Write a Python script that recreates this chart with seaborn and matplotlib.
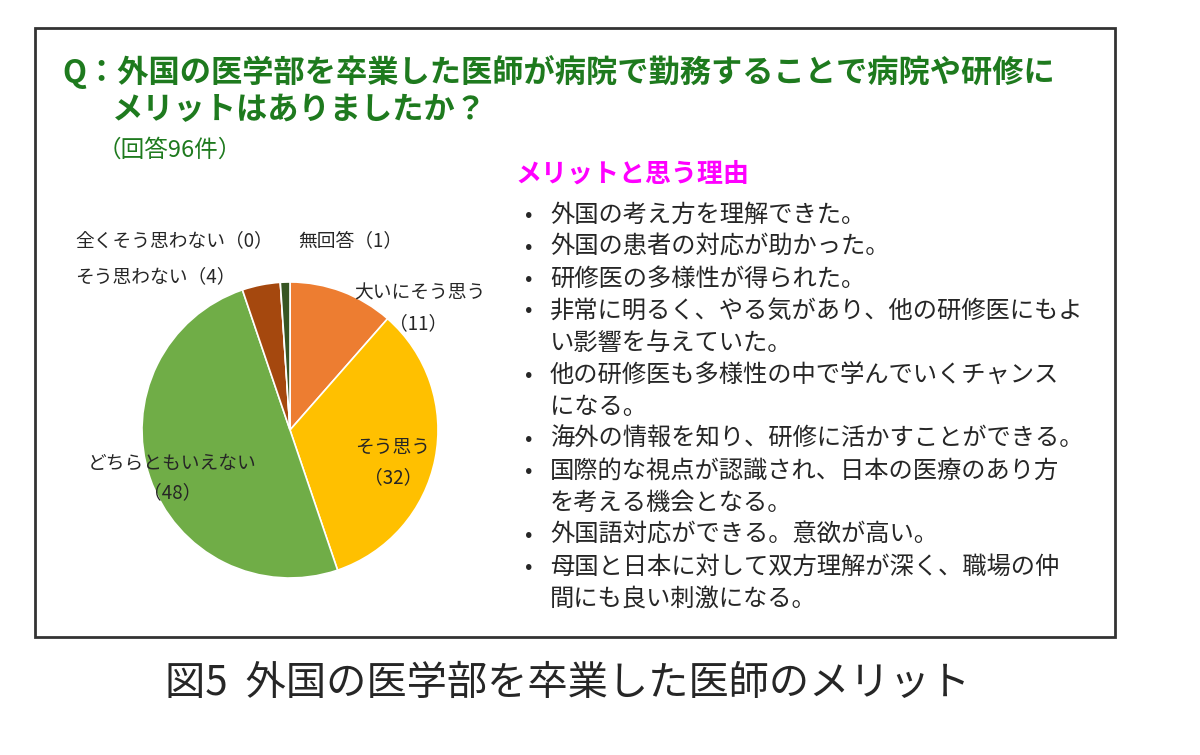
import matplotlib.pyplot as plt
import seaborn as sns
from matplotlib.patches import Rectangle

sns.set_style("white")
plt.rcParams["font.family"] = "Noto Sans CJK JP"

# data
labels = ["大いにそう思う", "そう思う", "どちらともいえない", "そう思わない", "全くそう思わない", "無回答"]
counts = [11, 32, 48, 4, 0, 1]
colors = sns.color_palette(["#ED7D31", "#FFC000", "#70AD47", "#A5480E", "#5B7F2E", "#375623"])

reasons = [
    "外国の考え方を理解できた。",
    "外国の患者の対応が助かった。",
    "研修医の多様性が得られた。",
    "非常に明るく、やる気があり、他の研修医にもよ\nい影響を与えていた。",
    "他の研修医も多様性の中で学んでいくチャンス\nになる。",
    "海外の情報を知り、研修に活かすことができる。",
    "国際的な視点が認識され、日本の医療のあり方\nを考える機会となる。",
    "外国語対応ができる。意欲が高い。",
    "母国と日本に対して双方理解が深く、職場の仲\n間にも良い刺激になる。",
]

W, H = 1200, 755
fig = plt.figure(figsize=(12, 7.55), dpi=100)

def t(x, y, s, **kw):
    fig.text(x / W, 1 - y / H, s, **kw)

# frame
fig.patches.append(Rectangle((35 / W, 1 - 637 / H), 1080 / W, 609 / H, transform=fig.transFigure,
                             fill=False, edgecolor="#333333", linewidth=2))

# pie
cx, cy, r = 290, 430, 148
ax = fig.add_axes([(cx - r) / W, (H - cy - r) / H, 2 * r / W, 2 * r / H])
ax.pie(counts, colors=colors, startangle=90, counterclock=False,
       wedgeprops=dict(edgecolor="white", linewidth=1.2))
ax.set_xlim(-1, 1)
ax.set_ylim(-1, 1)
ax.set_aspect("auto")

# titles
green = "#1E7A1E"
t(62, 72, "Q：外国の医学部を卒業した医師が病院で勤務することで病院や研修に", fontsize=22.5, color=green,
  fontweight="bold", va="center")
t(112, 110, "メリットはありましたか？", fontsize=22.5, color=green, fontweight="bold", va="center")
t(98, 150, "（回答96件）", fontsize=17, color=green, va="center")

# pie labels
fs = 13.5
t(75, 241, "全くそう思わない（0）", fontsize=fs, va="center")
t(298, 241, "無回答（1）", fontsize=fs, va="center")
t(75, 277, "そう思わない（4）", fontsize=fs, va="center")
t(420, 293, "大いにそう思う", fontsize=fs, va="center", ha="center")
t(418, 324, "（11）", fontsize=fs, va="center", ha="center")
t(393, 447, "そう思う", fontsize=fs, va="center", ha="center")
t(393, 478, "（32）", fontsize=fs, va="center", ha="center")
t(172, 463, "どちらともいえない", fontsize=fs, va="center", ha="center")
t(172, 493, "（48）", fontsize=fs, va="center", ha="center")

# reasons
t(515, 174, "メリットと思う理由", fontsize=18.7, color="#FF00FF", fontweight="bold", va="center")
y = 215
for s in reasons:
    lines = s.split("\n")
    t(525, y, "•", fontsize=16, va="center")
    for i, ln in enumerate(lines):
        t(550, y + i * 32, ln, fontsize=17.5, va="center")
    y += 32 * len(lines)

t(568, 683, "図5  外国の医学部を卒業した医師のメリット", fontsize=29, va="center", ha="center")

fig.savefig("out.png", dpi=100)
